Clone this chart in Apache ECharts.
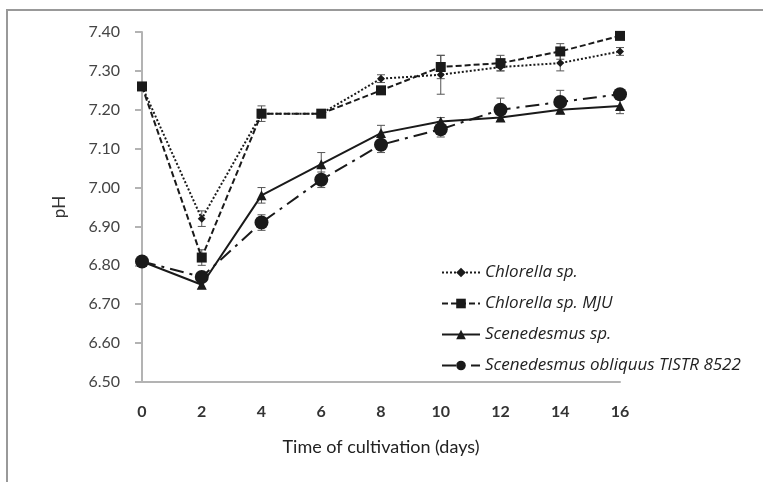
<!DOCTYPE html>
<html>
<head>
<meta charset="utf-8">
<script src="https://cdn.jsdelivr.net/npm/echarts@6/dist/echarts.min.js"></script>
<style>
  html, body { margin: 0; padding: 0; background: #fff; }
  #chart { width: 763px; height: 482px; }
</style>
</head>
<body>
<div id="chart"></div>
<script>
// days of cultivation
const days = [0, 2, 4, 6, 8, 10, 12, 14, 16]
const yTicks = [6.5, 6.6, 6.7, 6.8, 6.9, 7.0, 7.1, 7.2, 7.3, 7.4]

// pH per species
const chlorella = [7.26, 6.92, 7.19, 7.19, 7.28, 7.29, 7.31, 7.32, 7.35]
const chlorellaMJU = [7.26, 6.82, 7.19, 7.19, 7.25, 7.31, 7.32, 7.35, 7.39]
const scenedesmus = [6.81, 6.75, 6.98, 7.06, 7.14, 7.17, 7.18, 7.20, 7.21]
const obliquus = [6.81, 6.77, 6.91, 7.02, 7.11, 7.15, 7.20, 7.22, 7.24]

// error bar half-widths (±)
const chlorellaErr = [0, 0.02, 0.01, 0, 0.01, 0.05, 0.01, 0.02, 0.01]
const chlorellaMJUErr = [0, 0.02, 0.02, 0, 0.01, 0.03, 0.02, 0.02, 0]
const scenedesmusErr = [0, 0.01, 0.02, 0.03, 0.02, 0.01, 0.01, 0.01, 0.02]
const obliquusErr = [0, 0.01, 0.02, 0.02, 0.02, 0.02, 0.03, 0.03, 0.01]

const names = ['Chlorella sp.', 'Chlorella sp. MJU', 'Scenedesmus sp.', 'Scenedesmus obliquus TISTR 8522']

const chart = echarts.init(document.getElementById('chart'))
const ink = '#1a1a1a'
const axisGray = '#b3b3b3'

function lineSeries(name, values, symbol, size, dash) {
  return {
    name: name,
    type: 'line',
    data: days.map((d, i) => [d, values[i]]),
    symbol: symbol,
    symbolSize: size,
    itemStyle: { color: ink },
    lineStyle: { color: ink, width: 2, type: dash },
    z: 3
  }
}

// error bars drawn as vertical whiskers with caps
function errorSeries(values, errs) {
  return {
    type: 'custom',
    data: days.map((d, i) => [d, values[i] - errs[i], values[i] + errs[i]]),
    encode: { x: 0, y: [1, 2] },
    renderItem: (params, api) => {
      const lo = api.coord([api.value(0), api.value(1)])
      const hi = api.coord([api.value(0), api.value(2)])
      const w = 4
      const st = { stroke: '#555', lineWidth: 1 }
      return {
        type: 'group',
        children: [
          { type: 'line', shape: { x1: lo[0], y1: lo[1], x2: hi[0], y2: hi[1] }, style: st },
          { type: 'line', shape: { x1: lo[0] - w, y1: lo[1], x2: lo[0] + w, y2: lo[1] }, style: st },
          { type: 'line', shape: { x1: hi[0] - w, y1: hi[1], x2: hi[0] + w, y2: hi[1] }, style: st }
        ]
      }
    },
    silent: true,
    z: 2
  }
}

const option = {
  animation: false,
  backgroundColor: '#fff',
  graphic: [{
    type: 'polyline',
    shape: { points: [[7, 482], [7, 10], [763, 10]] },
    style: { stroke: '#999', lineWidth: 2, fill: null }
  }],
  grid: { left: 142, right: 143, top: 32, bottom: 100 },
  legend: {
    data: names,
    orient: 'vertical',
    left: 441,
    top: 264,
    padding: 0,
    itemWidth: 38,
    itemHeight: 12,
    itemGap: 14,
    textStyle: { fontFamily: 'Open Sans', fontStyle: 'italic', fontSize: 17, lineHeight: 14, color: '#222' }
  },
  xAxis: {
    type: 'value',
    min: 0,
    max: 16,
    interval: 2,
    name: 'Time of cultivation (days)',
    nameLocation: 'middle',
    nameGap: 56,
    nameTextStyle: { fontFamily: 'Lato', fontSize: 18, color: '#222' },
    axisLine: { lineStyle: { color: axisGray, width: 2 } },
    axisTick: { show: false },
    splitLine: { show: false },
    axisLabel: { margin: 22, fontFamily: 'Lato', fontSize: 16, fontWeight: 'bold', color: '#333' }
  },
  yAxis: {
    type: 'value',
    min: yTicks[0],
    max: yTicks[yTicks.length - 1],
    interval: 0.1,
    name: 'pH',
    nameLocation: 'middle',
    nameGap: 74,
    nameTextStyle: { fontFamily: 'Lato', fontSize: 17, color: '#333' },
    axisLine: { show: true, lineStyle: { color: axisGray, width: 2 } },
    axisTick: { show: true, inside: false, length: 7, lineStyle: { color: axisGray, width: 2 } },
    splitLine: { show: false },
    axisLabel: {
      margin: 22, fontFamily: 'Lato', fontSize: 16, color: '#444',
      formatter: v => v.toFixed(2)
    }
  },
  series: [
    errorSeries(chlorella, chlorellaErr),
    errorSeries(chlorellaMJU, chlorellaMJUErr),
    errorSeries(scenedesmus, scenedesmusErr),
    errorSeries(obliquus, obliquusErr),
    lineSeries(names[0], chlorella, 'diamond', 8, [2, 2]),
    lineSeries(names[1], chlorellaMJU, 'rect', 10, [6, 3]),
    lineSeries(names[2], scenedesmus, 'triangle', 10, 'solid'),
    lineSeries(names[3], obliquus, 'circle', 14, [14, 6, 3, 6])
  ]
}

chart.setOption(option)
</script>
</body>
</html>
